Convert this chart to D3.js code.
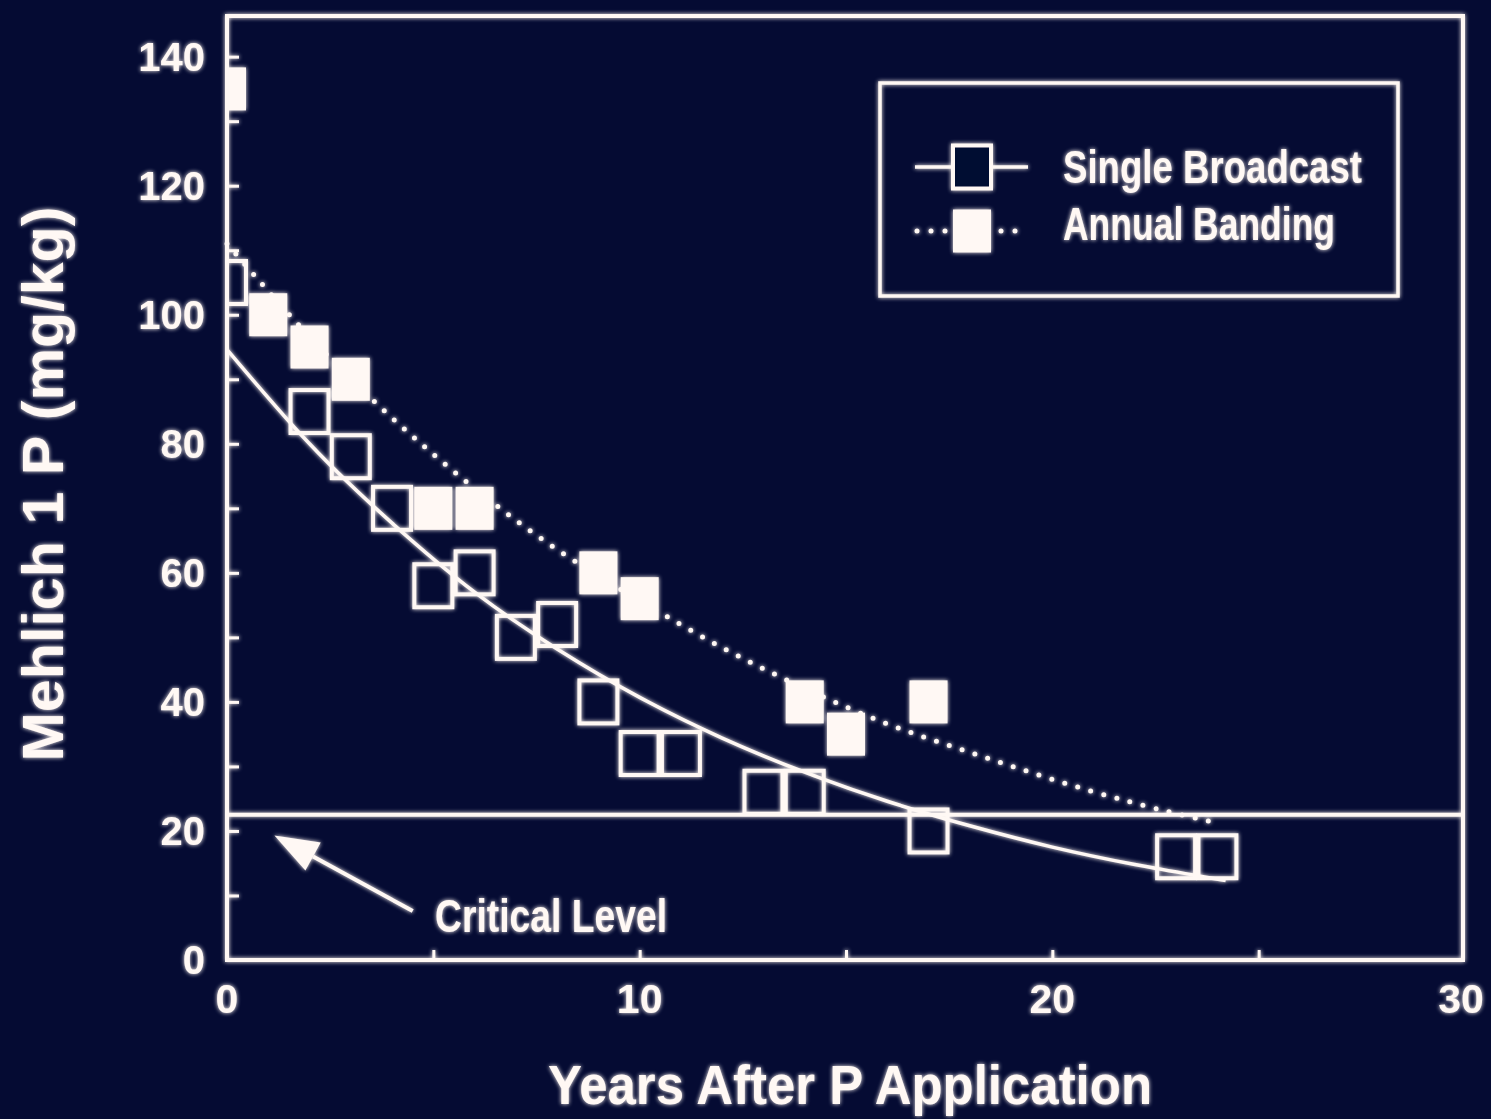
<!DOCTYPE html>
<html>
<head>
<meta charset="utf-8">
<script src="https://cdn.jsdelivr.net/npm/d3@7"></script>
<style>
  html, body { margin: 0; padding: 0; background: #050b33; }
  svg { display: block; }
  text { font-family: "Liberation Sans", Arial, sans-serif; font-weight: bold; fill: #fff8f4; }
</style>
</head>
<body>
<div id="chart"></div>
<script>
// single broadcast (open squares)
var sbYears = [0, 2, 3, 4, 5, 6, 7, 8, 9, 10, 11, 13, 14, 17, 23, 24],
	sbP = [105, 85, 78, 70, 58, 60, 50, 52, 40, 32, 32, 26, 26, 20, 16, 16];

// annual banding (filled squares)
var abYears = [0, 1, 2, 3, 5, 6, 9, 10, 14, 15, 17],
	abP = [135, 100, 95, 90, 70, 70, 60, 56, 40, 35, 40];

// fitted curves
var sbFitYears = [0, 2, 4, 6, 8, 10, 12, 14, 16, 18, 20, 22, 24.2],
	sbFitP = [94.6, 80.0, 67.7, 57.0, 48.2, 40.7, 34.4, 29.1, 24.6, 20.8, 17.5, 14.8, 12.3];
var abFitYears = [0, 2, 4, 6, 8, 10, 12, 14, 16, 18, 20, 22, 23.8],
	abFitP = [111, 96.6, 84.0, 73.1, 63.6, 55.7, 48.4, 42.1, 36.6, 32.2, 28.0, 24.3, 21.5];

var criticalLevel = 22.5;
var xTicks = [0, 10, 20, 30],
	yTicks = [0, 20, 40, 60, 80, 100, 120, 140];

var legendLabels = ["Single Broadcast", "Annual Banding"];

var width = 1491,
	height = 1119,
	white = "#fff8f4",
	bg = "#050b33";

var margin = {top: 16, right: 28, bottom: 159, left: 227};

var svg = d3.select("#chart").append("svg")
	.attr("width", width)
	.attr("height", height);

svg.append("rect").attr("width", width).attr("height", height).attr("fill", bg);

// soft glow like the projected slide
var defs = svg.append("defs");
var glow = defs.append("filter").attr("id", "glow")
	.attr("x", "-5%").attr("y", "-5%").attr("width", "110%").attr("height", "110%");
glow.append("feGaussianBlur").attr("in", "SourceGraphic").attr("stdDeviation", 2.2).attr("result", "b");
var merge = glow.append("feMerge");
merge.append("feMergeNode").attr("in", "b");
merge.append("feMergeNode").attr("in", "SourceGraphic");

var x = d3.scaleLinear().domain([0, 30]).range([margin.left, 1465]);
var y = d3.scaleLinear().domain([0, 146.3]).range([960, margin.top]);

defs.append("clipPath").attr("id", "plot")
	.append("rect")
	.attr("x", x(0)).attr("y", y(146.3))
	.attr("width", 1463 - x(0)).attr("height", y(0) - y(146.3));

var g = svg.append("g").attr("filter", "url(#glow)");

// axes, ticks inside the frame
var yAxis = d3.axisLeft(y).tickValues(d3.range(0, 141, 10)).tickSize(-12).tickFormat("");
g.append("g").attr("transform", "translate(" + x(0) + ",0)").call(yAxis)
	.call(function(a) {
		a.select(".domain").remove();
		a.selectAll("line").attr("stroke", white).attr("stroke-width", 3);
	});

var xAxis = d3.axisBottom(x).tickValues(d3.range(0, 30, 5)).tickSize(-10).tickFormat("");
g.append("g").attr("transform", "translate(0," + y(0) + ")").call(xAxis)
	.call(function(a) {
		a.select(".domain").remove();
		a.selectAll("line").attr("stroke", white).attr("stroke-width", 3);
	});

g.selectAll(".ylab").data(yTicks).enter()
	.append("text")
	.attr("x", 205)
	.attr("y", function(d) { return y(d); })
	.attr("dy", "0.36em")
	.attr("text-anchor", "end")
	.attr("font-size", 40)
	.text(function(d) { return d; });

g.selectAll(".xlab").data(xTicks).enter()
	.append("text")
	.attr("x", function(d) { return x(d) - (d == 30 ? 4 : 0); })
	.attr("y", 998)
	.attr("dy", "0.36em")
	.attr("text-anchor", "middle")
	.attr("font-size", 41)
	.text(function(d) { return d; });

// frame
g.append("rect")
	.attr("x", x(0)).attr("y", margin.top)
	.attr("width", 1463 - x(0)).attr("height", y(0) - margin.top)
	.attr("fill", "none").attr("stroke", white).attr("stroke-width", 4);

// critical level
g.append("line")
	.attr("x1", x(0)).attr("x2", 1463)
	.attr("y1", y(criticalLevel)).attr("y2", y(criticalLevel))
	.attr("stroke", white).attr("stroke-width", 4);

// fitted curves
var line = d3.line()
	.x(function(d) { return x(d[0]); })
	.y(function(d) { return y(d[1]); })
	.curve(d3.curveNatural);

g.append("path")
	.attr("d", line(d3.zip(sbFitYears, sbFitP)))
	.attr("fill", "none").attr("stroke", white).attr("stroke-width", 3.5);

g.append("path")
	.attr("d", line(d3.zip(abFitYears, abFitP)))
	.attr("fill", "none").attr("stroke", white).attr("stroke-width", 5)
	.attr("stroke-linecap", "round").attr("stroke-dasharray", "0 13.5");

// markers
var mw = 38, mh = 43;
var marks = g.append("g").attr("clip-path", "url(#plot)");

marks.selectAll(".sb").data(d3.zip(sbYears, sbP)).enter()
	.append("rect")
	.attr("x", function(d) { return x(d[0]) - mw / 2; })
	.attr("y", function(d) { return y(d[1]) - mh / 2; })
	.attr("width", mw).attr("height", mh)
	.attr("fill", "none").attr("stroke", white).attr("stroke-width", 4);

marks.selectAll(".ab").data(d3.zip(abYears, abP)).enter()
	.append("rect")
	.attr("x", function(d) { return x(d[0]) - mw / 2; })
	.attr("y", function(d) { return y(d[1]) - mh / 2; })
	.attr("width", mw).attr("height", mh)
	.attr("fill", white);

// arrow to critical level
var tail = [x(4.5), y(7.6)],
	tip = [x(1.15), y(19.3)];
var ang = Math.atan2(tip[1] - tail[1], tip[0] - tail[0]);
var headLen = 44, headW = 16;
var base = [tip[0] - headLen * Math.cos(ang), tip[1] - headLen * Math.sin(ang)];
g.append("line")
	.attr("x1", tail[0]).attr("y1", tail[1])
	.attr("x2", base[0]).attr("y2", base[1])
	.attr("stroke", white).attr("stroke-width", 4);
g.append("path")
	.attr("d", "M" + tip[0] + "," + tip[1] +
		"L" + (base[0] + headW * Math.sin(ang)) + "," + (base[1] - headW * Math.cos(ang)) +
		"L" + (base[0] - headW * Math.sin(ang)) + "," + (base[1] + headW * Math.cos(ang)) + "Z")
	.attr("fill", white);

g.append("text")
	.attr("x", 435).attr("y", 932)
	.attr("font-size", 46)
	.attr("textLength", 232).attr("lengthAdjust", "spacingAndGlyphs")
	.text("Critical Level");

// legend
g.append("rect")
	.attr("x", 880).attr("y", 83).attr("width", 518).attr("height", 213)
	.attr("fill", "none").attr("stroke", white).attr("stroke-width", 3.5);

g.append("line").attr("x1", 915).attr("x2", 1028).attr("y1", 167).attr("y2", 167)
	.attr("stroke", white).attr("stroke-width", 3.5);
g.append("rect").attr("x", 972 - mw / 2).attr("y", 167 - mh / 2).attr("width", mw).attr("height", mh)
	.attr("fill", bg).attr("stroke", white).attr("stroke-width", 4);

g.append("line").attr("x1", 917).attr("x2", 1020).attr("y1", 231).attr("y2", 231)
	.attr("stroke", white).attr("stroke-width", 5)
	.attr("stroke-linecap", "round").attr("stroke-dasharray", "0 14");
g.append("rect").attr("x", 972 - mw / 2).attr("y", 231 - mh / 2).attr("width", mw).attr("height", mh)
	.attr("fill", white);

g.selectAll(".leg").data(legendLabels).enter()
	.append("text")
	.attr("x", 1063)
	.attr("y", function(d, i) { return 183 + 57 * i; })
	.attr("font-size", 46)
	.attr("textLength", function(d, i) { return i == 0 ? 299 : 272; })
	.attr("lengthAdjust", "spacingAndGlyphs")
	.text(function(d) { return d; });

// axis titles
g.append("text")
	.attr("transform", "translate(63,484) rotate(-90)")
	.attr("text-anchor", "middle")
	.attr("font-size", 57)
	.attr("textLength", 555).attr("lengthAdjust", "spacingAndGlyphs")
	.text("Mehlich 1 P (mg/kg)");

g.append("text")
	.attr("x", 548).attr("y", 1104)
	.attr("font-size", 56)
	.attr("textLength", 604).attr("lengthAdjust", "spacingAndGlyphs")
	.text("Years After P Application");
</script>
</body>
</html>
